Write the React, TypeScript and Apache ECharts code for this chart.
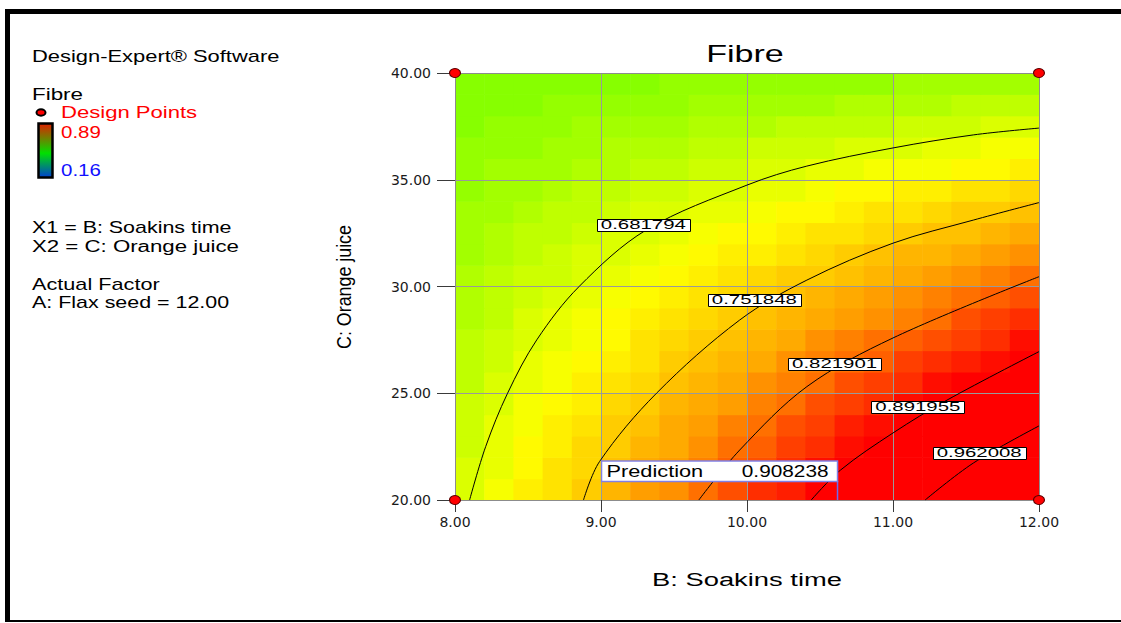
import React, { useEffect, useRef } from 'react';
import * as echarts from 'echarts';

// ---- data ----
const soakinsCellCenters = [8.1, 8.3, 8.5, 8.7, 8.9, 9.1, 9.3, 9.5, 9.7, 9.9, 10.1, 10.3, 10.5, 10.7, 10.9, 11.1, 11.3, 11.5, 11.7, 11.9];
const orangeCellCenters = [20.5, 21.5, 22.5, 23.5, 24.5, 25.5, 26.5, 27.5, 28.5, 29.5, 30.5, 31.5, 32.5, 33.5, 34.5, 35.5, 36.5, 37.5, 38.5, 39.5];
// fibre surface, one row per orange-juice level (bottom to top)
const fibreRows = [
  [0.68, 0.70, 0.72, 0.73, 0.75, 0.77, 0.79, 0.80, 0.82, 0.84, 0.86, 0.87, 0.89, 0.91, 0.93, 0.94, 0.96, 0.98, 1.00, 1.01],
  [0.68, 0.69, 0.71, 0.73, 0.74, 0.76, 0.78, 0.79, 0.81, 0.83, 0.84, 0.86, 0.88, 0.89, 0.91, 0.93, 0.94, 0.96, 0.98, 0.99],
  [0.67, 0.69, 0.71, 0.72, 0.74, 0.75, 0.77, 0.78, 0.80, 0.82, 0.83, 0.85, 0.86, 0.88, 0.90, 0.91, 0.93, 0.94, 0.96, 0.97],
  [0.67, 0.69, 0.70, 0.72, 0.73, 0.75, 0.76, 0.78, 0.79, 0.81, 0.82, 0.84, 0.85, 0.87, 0.88, 0.89, 0.91, 0.92, 0.94, 0.95],
  [0.67, 0.68, 0.70, 0.71, 0.72, 0.74, 0.75, 0.77, 0.78, 0.79, 0.81, 0.82, 0.84, 0.85, 0.86, 0.88, 0.89, 0.91, 0.92, 0.93],
  [0.66, 0.68, 0.69, 0.70, 0.72, 0.73, 0.74, 0.76, 0.77, 0.78, 0.80, 0.81, 0.82, 0.84, 0.85, 0.86, 0.88, 0.89, 0.90, 0.92],
  [0.66, 0.67, 0.69, 0.70, 0.71, 0.72, 0.73, 0.75, 0.76, 0.77, 0.78, 0.80, 0.81, 0.82, 0.83, 0.85, 0.86, 0.87, 0.88, 0.90],
  [0.66, 0.67, 0.68, 0.69, 0.70, 0.71, 0.73, 0.74, 0.75, 0.76, 0.77, 0.78, 0.80, 0.81, 0.82, 0.83, 0.84, 0.85, 0.86, 0.88],
  [0.65, 0.66, 0.68, 0.69, 0.70, 0.71, 0.72, 0.73, 0.74, 0.75, 0.76, 0.77, 0.78, 0.79, 0.80, 0.81, 0.82, 0.84, 0.85, 0.86],
  [0.65, 0.66, 0.67, 0.68, 0.69, 0.70, 0.71, 0.72, 0.73, 0.74, 0.75, 0.76, 0.77, 0.78, 0.79, 0.80, 0.81, 0.82, 0.83, 0.84],
  [0.65, 0.66, 0.67, 0.67, 0.68, 0.69, 0.70, 0.71, 0.72, 0.73, 0.74, 0.75, 0.75, 0.76, 0.77, 0.78, 0.79, 0.80, 0.81, 0.82],
  [0.64, 0.65, 0.66, 0.67, 0.68, 0.68, 0.69, 0.70, 0.71, 0.72, 0.72, 0.73, 0.74, 0.75, 0.76, 0.77, 0.77, 0.78, 0.79, 0.80],
  [0.64, 0.65, 0.66, 0.66, 0.67, 0.68, 0.68, 0.69, 0.70, 0.71, 0.71, 0.72, 0.73, 0.73, 0.74, 0.75, 0.76, 0.76, 0.77, 0.78],
  [0.64, 0.64, 0.65, 0.66, 0.66, 0.67, 0.68, 0.68, 0.69, 0.69, 0.70, 0.71, 0.71, 0.72, 0.73, 0.73, 0.74, 0.75, 0.75, 0.76],
  [0.63, 0.64, 0.64, 0.65, 0.66, 0.66, 0.67, 0.67, 0.68, 0.68, 0.69, 0.69, 0.70, 0.71, 0.71, 0.72, 0.72, 0.73, 0.73, 0.74],
  [0.63, 0.64, 0.64, 0.64, 0.65, 0.65, 0.66, 0.66, 0.67, 0.67, 0.68, 0.68, 0.69, 0.69, 0.70, 0.70, 0.70, 0.71, 0.71, 0.72],
  [0.63, 0.63, 0.63, 0.64, 0.64, 0.65, 0.65, 0.65, 0.66, 0.66, 0.67, 0.67, 0.67, 0.68, 0.68, 0.68, 0.69, 0.69, 0.70, 0.70],
  [0.62, 0.63, 0.63, 0.63, 0.64, 0.64, 0.64, 0.64, 0.65, 0.65, 0.65, 0.66, 0.66, 0.66, 0.66, 0.67, 0.67, 0.67, 0.68, 0.68],
  [0.62, 0.62, 0.62, 0.63, 0.63, 0.63, 0.63, 0.63, 0.64, 0.64, 0.64, 0.64, 0.64, 0.65, 0.65, 0.65, 0.65, 0.66, 0.66, 0.66],
  [0.62, 0.62, 0.62, 0.62, 0.62, 0.62, 0.62, 0.63, 0.63, 0.63, 0.63, 0.63, 0.63, 0.63, 0.63, 0.64, 0.64, 0.64, 0.64, 0.64],
];

const contourLevels = ['0.681794', '0.751848', '0.821901', '0.891955', '0.962008'];
const contour1 = [[8.10, 20.0], [8.21, 22.5], [8.36, 25.0], [8.56, 27.5], [8.85, 30.0], [9.31, 32.65], [10.0, 34.75], [10.41, 35.64], [11.0, 36.49], [11.55, 37.1], [12.0, 37.42]];
const contour2 = [[8.88, 20.0], [8.99, 21.8], [9.38, 25.0], [9.95, 28.43], [10.41, 30.3], [11.0, 32.03], [11.55, 33.11], [12.0, 33.93]];
const contour3 = [[9.67, 20.0], [9.95, 22.34], [10.41, 25.31], [11.0, 27.59], [12.0, 30.46]];
const contour4 = [[10.44, 20.0], [10.64, 21.4], [11.0, 23.14], [11.37, 24.68], [12.0, 26.95]];
const contour5 = [[11.22, 20.0], [11.55, 21.73], [12.0, 23.47]];
const contourLabelAt = [[9.29, 32.88], [10.05, 29.37], [10.60, 26.37], [11.17, 24.37], [11.59, 22.22]];

const designPoints = [[8, 20], [8, 40], [12, 20], [12, 40]];
const predictionPoint = [10.62, 20.0];
const predictionValue = '0.908238';

const legendLines = ['X1 = B: Soakins time', 'X2 = C: Orange juice'];
const factorLines = ['Actual Factor', 'A: Flax seed = 12.00'];
const rangeLabels = ['0.89', '0.16'];

const surfaceColors = ['#0000ff', '#0080ff', '#00ffff', '#00ff80', '#00ff00', '#80ff00', '#ffff00', '#ff9600', '#ff0000', '#ff0000', '#ff0000'];

const FONT = "'Liberation Sans', Arial, sans-serif";
const TICK_FONT = "'DejaVu Sans', sans-serif";
const CELL_HALF_B = 0.1;
const CELL_HALF_C = 0.5;

function sText(text: string, x: number, y: number, size: number, sx: number, fill = '#000', align = 'left', extra: any = {}) {
  return {
    type: 'text', x, y, scaleX: sx, z: 100, silent: true,
    style: { text, fontSize: size, fontFamily: FONT, fill, textAlign: align, align, textVerticalAlign: 'middle', verticalAlign: 'middle' },
    ...extra,
  };
}

export default function App() {
  const ref = useRef<HTMLDivElement>(null);
  useEffect(() => {
    if (!ref.current) return;
    const chart = echarts.init(ref.current, null, { renderer: 'svg' });

    const heatData: number[][] = [];
    fibreRows.forEach((row, i) => row.forEach((v, j) => heatData.push([soakinsCellCenters[j], orangeCellCenters[i], v])));

    const contours = [contour1, contour2, contour3, contour4, contour5];
    const axisLineStyle = { color: '#8c8c8c', width: 1 };

    const option: any = {
      animation: false,
      backgroundColor: '#ffffff',
      grid: { left: 455, top: 73, width: 584, height: 427, containLabel: false },
      visualMap: { type: 'continuous', show: false, min: 0.16, max: 1.07, dimension: 2, seriesIndex: 0, inRange: { color: surfaceColors } },
      xAxis: [
        {
          type: 'value', min: 8, max: 12, interval: 1, position: 'bottom', z: 3,
          axisLine: { onZero: false, lineStyle: axisLineStyle },
          axisTick: { show: true, length: 12, lineStyle: { color: '#3a3a3a' } },
          axisLabel: { margin: 15, formatter: (v: number) => v.toFixed(2), fontFamily: TICK_FONT, fontSize: 14, color: '#1a1a1a' },
          splitLine: { show: true, lineStyle: { color: '#9a9a9a', width: 1 } },
        },
        {
          type: 'value', min: 8, max: 12, position: 'top', z: 3,
          axisLine: { onZero: false, lineStyle: axisLineStyle },
          axisTick: { show: false }, axisLabel: { show: false }, splitLine: { show: false },
        },
      ],
      yAxis: [
        {
          type: 'value', min: 20, max: 40, interval: 5, position: 'left', z: 3,
          axisLine: { onZero: false, lineStyle: axisLineStyle },
          axisTick: { show: true, length: 18, lineStyle: { color: '#3a3a3a' } },
          axisLabel: { margin: 24, formatter: (v: number) => v.toFixed(2), fontFamily: TICK_FONT, fontSize: 14, color: '#1a1a1a' },
          splitLine: { show: true, lineStyle: { color: '#9a9a9a', width: 1 } },
        },
        {
          type: 'value', min: 20, max: 40, position: 'right', z: 3,
          axisLine: { onZero: false, lineStyle: axisLineStyle },
          axisTick: { show: false }, axisLabel: { show: false }, splitLine: { show: false },
        },
      ],
      series: [
        {
          type: 'custom', name: 'Fibre', data: heatData, encode: { x: 0, y: 1 }, clip: true, z: 1, silent: true,
          renderItem: (params: any, api: any) => {
            const b = api.value(0);
            const c = api.value(1);
            const p0 = api.coord([b - CELL_HALF_B, c + CELL_HALF_C]);
            const p1 = api.coord([b + CELL_HALF_B, c - CELL_HALF_C]);
            return {
              type: 'rect',
              shape: { x: p0[0], y: p0[1], width: p1[0] - p0[0] + 0.6, height: p1[1] - p0[1] + 0.6 },
              style: { fill: api.visual('color') },
            };
          },
        },
        ...contours.map((pts, k) => ({
          type: 'line', name: contourLevels[k], data: pts, smooth: 0.34, showSymbol: false, symbol: 'none',
          lineStyle: { color: '#000', width: 1 }, z: 4, silent: true, clip: true,
        })),
        {
          type: 'scatter', name: 'Design Points', data: designPoints, symbol: 'circle', symbolSize: [11, 9], clip: false, z: 6,
          itemStyle: { color: '#ff0000', borderColor: '#5a0000', borderWidth: 1, opacity: 1 },
        },
      ],
    };
    chart.setOption(option);

    const toPx = (p: number[]) => chart.convertToPixel({ xAxisIndex: 0, yAxisIndex: 0 }, p) as number[];

    const graphics: any[] = [
      // frame
      { type: 'rect', shape: { x: 5, y: 9, width: 1116, height: 5 }, style: { fill: '#000' }, z: 100, silent: true },
      { type: 'rect', shape: { x: 5, y: 9, width: 5, height: 613 }, style: { fill: '#000' }, z: 100, silent: true },
      { type: 'rect', shape: { x: 5, y: 620, width: 1116, height: 2 }, style: { fill: '#000' }, z: 100, silent: true },
      // left panel
      sText('Design-Expert® Software', 32, 57, 16, 1.37),
      sText('Fibre', 32, 94, 16, 1.4),
      { type: 'ellipse', shape: { cx: 41, cy: 112.5, rx: 4.5, ry: 3.2 }, style: { fill: '#ff0000', stroke: '#000', lineWidth: 2 }, z: 100, silent: true },
      sText('Design Points', 61, 113, 16, 1.38, '#ff0000'),
      {
        type: 'rect', shape: { x: 38.5, y: 123.5, width: 14, height: 54 }, z: 100, silent: true,
        style: {
          stroke: '#000', lineWidth: 2.5,
          fill: new echarts.graphic.LinearGradient(0, 0, 0, 1, [
            { offset: 0, color: '#e02000' },
            { offset: 0.55, color: '#00e000' },
            { offset: 1, color: '#0040d0' },
          ]),
        },
      },
      sText(rangeLabels[0], 61, 132.5, 16, 1.28, '#ff0000'),
      sText(rangeLabels[1], 61, 170, 16, 1.28, '#1010ff'),
      sText(legendLines[0], 32, 228, 16, 1.34),
      sText(legendLines[1], 32, 246, 16, 1.39),
      sText(factorLines[0], 32, 284.5, 16, 1.355),
      sText(factorLines[1], 32, 303, 16, 1.34),
      // title and axis names
      sText('Fibre', 745, 53, 24, 1.42, '#000', 'center'),
      sText('B: Soakins time', 747, 580, 19, 1.44, '#000', 'center'),
      {
        type: 'text', x: 343, y: 287, rotation: Math.PI / 2, scaleX: 0.85, z: 100, silent: true,
        style: { text: 'C: Orange juice', fontSize: 21, fontFamily: FONT, fill: '#000', textAlign: 'center', align: 'center', textVerticalAlign: 'middle', verticalAlign: 'middle' },
      },
    ];

    contourLabelAt.forEach((pos, k) => {
      const p = toPx(pos);
      graphics.push({ type: 'rect', shape: { x: Math.round(p[0] - 46.5) + 0.5, y: Math.round(p[1] - 6) + 0.5, width: 93, height: 12 }, style: { fill: '#fff', stroke: '#000', lineWidth: 1 }, z: 90, silent: true });
      graphics.push(sText(contourLevels[k], p[0], p[1] + 0.5, 12, 1.7, '#000', 'center'));
    });

    const pp = toPx(predictionPoint);
    graphics.push({ type: 'line', shape: { x1: pp[0], y1: pp[1] - 19, x2: pp[0], y2: pp[1] }, style: { stroke: '#6b6bee', lineWidth: 1.5 }, z: 90, silent: true });
    graphics.push({ type: 'rect', shape: { x: pp[0] - 236, y: pp[1] - 39, width: 236, height: 20.5 }, style: { fill: '#fff', stroke: '#8080e6', lineWidth: 1.5 }, z: 90, silent: true });
    graphics.push(sText('Prediction', pp[0] - 231, pp[1] - 28.5, 16, 1.36));
    graphics.push(sText(predictionValue, pp[0] - 9, pp[1] - 28.5, 16, 1.3, '#000', 'right'));

    chart.setOption({ graphic: graphics });

    return () => chart.dispose();
  }, []);

  return (
    <div
      ref={ref}
      style={{ position: 'absolute', left: 0, top: 0, width: 1121, height: 623, background: '#fff' }}
    />
  );
}
